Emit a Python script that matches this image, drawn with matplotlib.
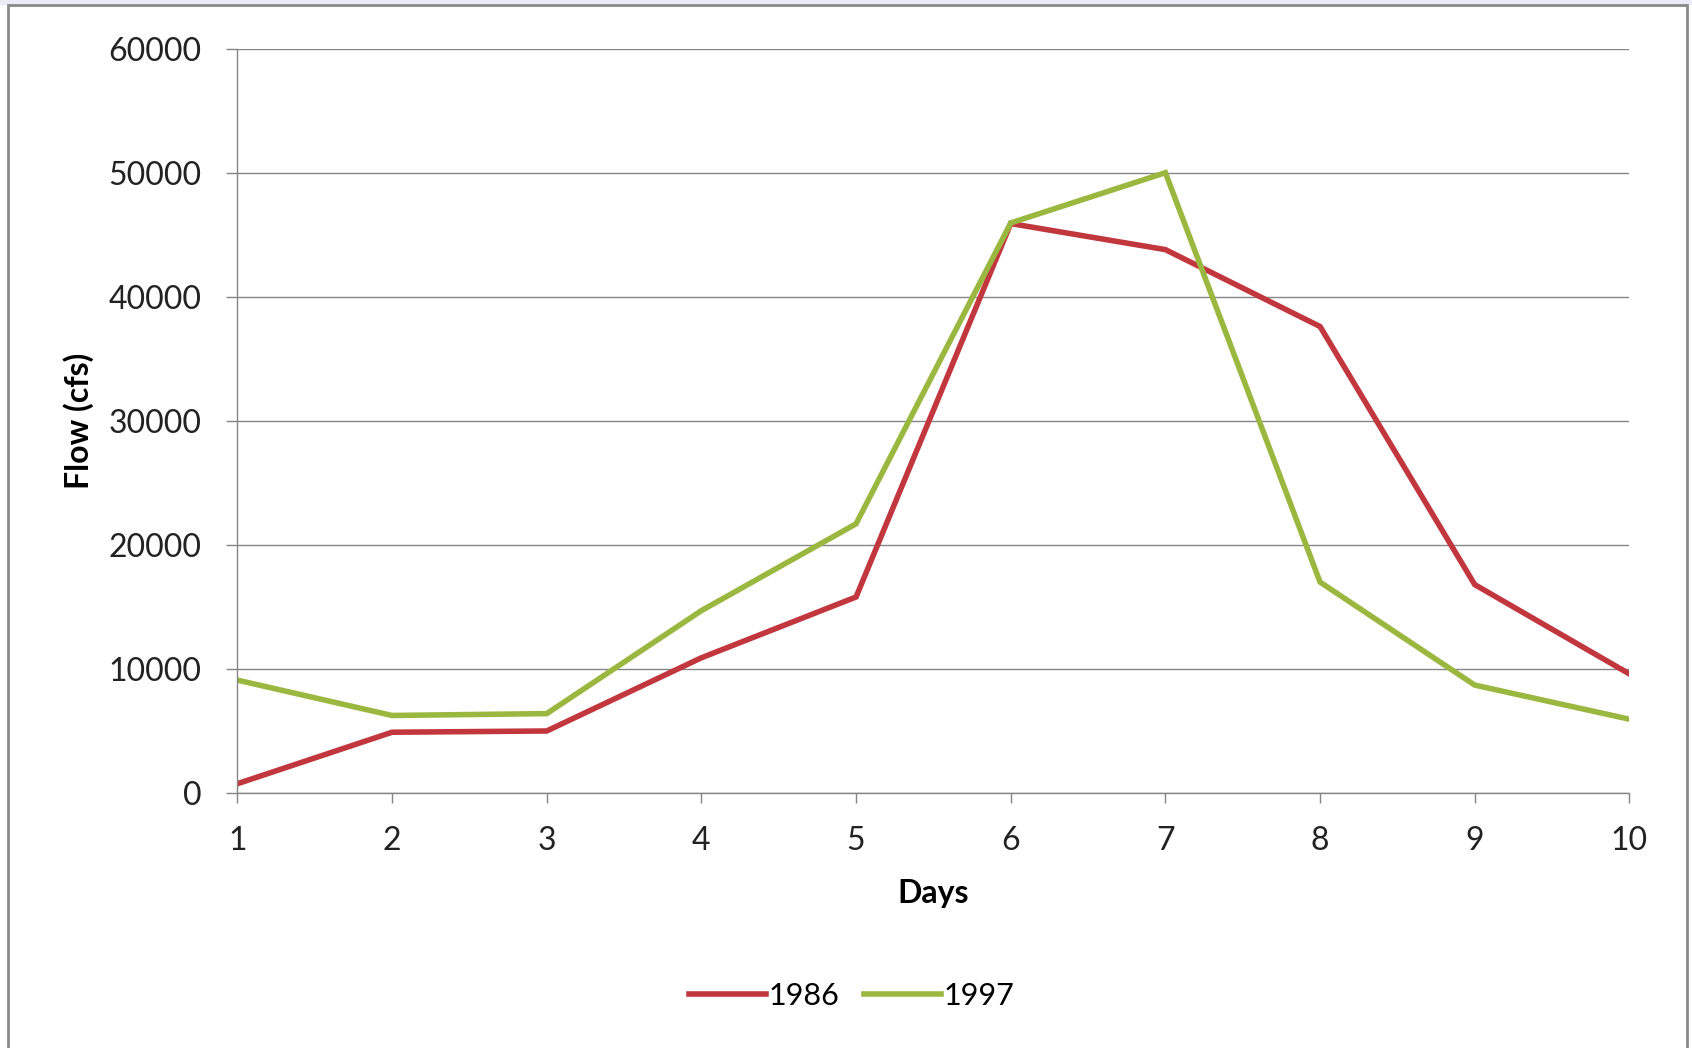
import numpy as np
from matplotlib import pyplot as plt
from matplotlib.patches import Rectangle

plt.rcParams['font.family'] = ['Lato', 'DejaVu Sans']

days = [1, 2, 3, 4, 5, 6, 7, 8, 9, 10]
flow_1986 = [750, 4900, 5000, 10900, 15800, 45900, 43800, 37600, 16800, 9600]
flow_1997 = [9100, 6250, 6400, 14700, 21700, 45950, 50000, 17000, 8700, 5950]
series_labels = ['1986', '1997']
yticks = [0, 10000, 20000, 30000, 40000, 50000, 60000]

red = '#c2373e'
green = '#9ab83f'
grey = '#858585'

fig = plt.figure(figsize=(16.92, 10.48), dpi=100)
fig.patch.set_facecolor('white')

# chart frame and the strip above it
fig.patches.append(Rectangle((0, 1 - 5/1048), 1, 5/1048, transform=fig.transFigure,
                             facecolor='#e9ebf6', edgecolor='none', zorder=0))
fig.patches.append(Rectangle((8/1692, -0.01), (1687 - 8)/1692, 1.01 - 5/1048,
                             transform=fig.transFigure, facecolor='none',
                             edgecolor='#8a8a8a', linewidth=2.0, zorder=1))

ax = fig.add_axes([0.1403, 0.2433, 0.963 - 0.1403, 0.9536 - 0.2433])
ax.plot(days, flow_1986, color=red, lw=4.0, label=series_labels[0], solid_joinstyle='miter')
ax.plot(days, flow_1997, color=green, lw=4.0, label=series_labels[1], solid_joinstyle='miter')

ax.set_xlim(1, 10)
ax.set_ylim(0, 60000)
ax.set_xticks(days)
ax.set_yticks(yticks)
ax.yaxis.grid(True, color=grey, lw=1.0)
ax.set_axisbelow(True)

for side in ['top', 'right']:
    ax.spines[side].set_visible(False)
for side in ['left', 'bottom']:
    ax.spines[side].set_color(grey)
    ax.spines[side].set_linewidth(1.0)

ax.tick_params(axis='y', length=8, width=1.0, color=grey, pad=18, labelsize=23, labelcolor='#222222')
ax.tick_params(axis='x', length=7, width=1.0, color=grey, pad=17, labelsize=23, labelcolor='#222222')

ax.set_xlabel('Days', fontsize=23, fontweight='bold', labelpad=16)
ax.set_ylabel('Flow (cfs)', fontsize=23, fontweight='bold', labelpad=10)

ax.legend(loc='center', bbox_to_anchor=(852/1692, 1 - 996/1048), bbox_transform=fig.transFigure,
          ncol=2, frameon=False, fontsize=22, handlelength=2.5, handletextpad=0.1,
          columnspacing=0.8)

fig.savefig('out.png', dpi=100)
